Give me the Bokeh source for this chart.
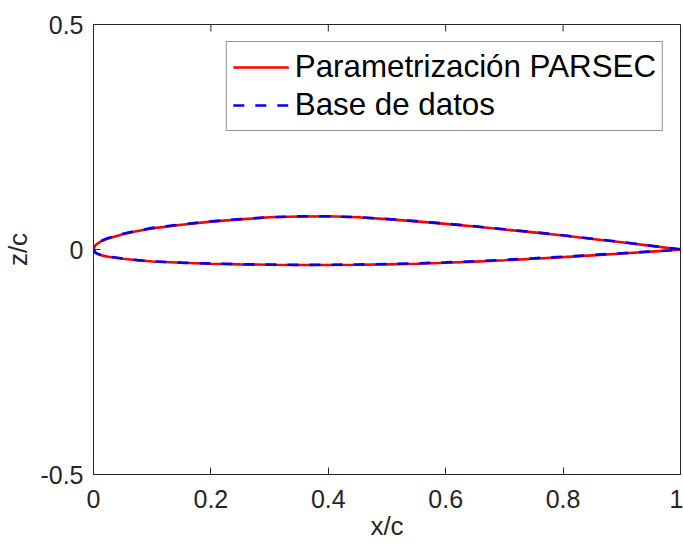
from bokeh.plotting import figure
from bokeh.models import Range1d, FixedTicker, Legend, LegendItem
from bokeh.embed import file_html
from bokeh.resources import INLINE

# chordwise stations (x/c)
x_stations = [0.0, 0.0025, 0.005, 0.0125, 0.025, 0.05, 0.075, 0.1, 0.15, 0.2, 0.25, 0.3,
              0.35, 0.4, 0.45, 0.5, 0.55, 0.6, 0.65, 0.7, 0.75, 0.8, 0.85, 0.9, 0.95, 1.0]

# PARSEC parametrization
z_upper_parsec = [0.0, 0.008, 0.0115, 0.018, 0.0245, 0.034, 0.041, 0.047, 0.055, 0.062, 0.067,
                  0.0715, 0.0735, 0.0738, 0.0718, 0.0675, 0.0625, 0.057, 0.051, 0.0445, 0.038,
                  0.031, 0.0235, 0.016, 0.008, 0.0]
z_lower_parsec = [0.0, -0.006, -0.0085, -0.0125, -0.016, -0.0205, -0.024, -0.0265, -0.0295,
                  -0.0315, -0.033, -0.034, -0.0345, -0.0345, -0.034, -0.033, -0.0315, -0.0295,
                  -0.027, -0.024, -0.0205, -0.017, -0.013, -0.009, -0.0048, 0.0]

# Database airfoil
z_upper_db = [0.0, 0.0085, 0.0122, 0.019, 0.0255, 0.035, 0.042, 0.048, 0.0558, 0.0625, 0.0675,
              0.0718, 0.0737, 0.0738, 0.0718, 0.0678, 0.063, 0.0575, 0.0515, 0.045, 0.0386,
              0.0316, 0.024, 0.0165, 0.0085, 0.0005]
z_lower_db = [0.0, -0.0058, -0.0082, -0.0122, -0.0157, -0.0202, -0.0237, -0.0262, -0.0292,
              -0.0312, -0.0327, -0.0336, -0.0341, -0.034, -0.0334, -0.0323, -0.0307, -0.0287,
              -0.026, -0.023, -0.0195, -0.016, -0.0122, -0.0083, -0.0043, -0.0005]

x_ticks = [0, 0.2, 0.4, 0.6, 0.8, 1.0]
x_tick_labels = ["0", "0.2", "0.4", "0.6", "0.8", "1"]
y_ticks = [-0.5, 0.0, 0.5]
y_tick_labels = ["-0.5", "0", "0.5"]

FONT = "Liberation Sans"
AX = "#262626"
X0, X1, Y0, Y1 = 0.0, 1.0, -0.5, 0.5

p = figure(width=683, height=545, output_backend="svg", toolbar_location=None,
           x_range=Range1d(X0, X1), y_range=Range1d(Y0, Y1),
           min_border_left=93, min_border_right=3, min_border_top=24, min_border_bottom=71)
p.background_fill_color = "white"
p.border_fill_color = "white"
p.outline_line_color = AX
p.outline_line_width = 1
p.grid.visible = False

# mirrored ticks on top and right edges (box on), tick length ~7 px
tx = 7.0 / 586.0 * (X1 - X0)
ty = 7.0 / 450.0 * (Y1 - Y0)
p.segment(x0=x_ticks, y0=[Y1] * len(x_ticks), x1=x_ticks, y1=[Y1 - ty] * len(x_ticks),
          line_color=AX, line_width=1)
p.segment(x0=[X1] * len(y_ticks), y0=y_ticks, x1=[X1 - tx] * len(y_ticks), y1=y_ticks,
          line_color=AX, line_width=1)

# closed contours: trailing edge -> upper -> leading edge -> lower -> trailing edge
xs_loop = x_stations[::-1] + x_stations[1:]
z_parsec_loop = z_upper_parsec[::-1] + z_lower_parsec[1:]
z_db_loop = z_upper_db[::-1] + z_lower_db[1:]

r1 = p.line(xs_loop, z_parsec_loop, line_color="#FF0000", line_width=2.6)
r2 = p.line(xs_loop, z_db_loop, line_color="#0000FF", line_width=2.6, line_dash="11 11")

for ax, ticks, labels in ((p.xaxis[0], x_ticks, x_tick_labels), (p.yaxis[0], y_ticks, y_tick_labels)):
    ax.ticker = FixedTicker(ticks=ticks)
    ax.major_label_overrides = {t: l for t, l in zip(ticks, labels)}
    ax.minor_tick_line_color = None
    ax.major_tick_in = 7
    ax.major_tick_out = 0
    ax.major_tick_line_color = AX
    ax.axis_line_color = AX
    ax.major_label_text_font = FONT
    ax.major_label_text_font_size = "25px"
    ax.major_label_text_color = AX
    ax.axis_label_text_font = FONT
    ax.axis_label_text_font_size = "26px"
    ax.axis_label_text_font_style = "normal"
    ax.axis_label_text_color = AX

p.xaxis.axis_label = "x/c"
p.yaxis.axis_label = "z/c"
p.xaxis.major_label_standoff = 15
p.yaxis.major_label_standoff = 10
p.xaxis.axis_label_standoff = 0
p.yaxis.axis_label_standoff = 4

legend = Legend(items=[LegendItem(label="Parametrización PARSEC", renderers=[r1]),
                       LegendItem(label="Base de datos", renderers=[r2])],
                location="top_right", margin=17, padding=6, spacing=0,
                glyph_width=56, glyph_height=38, label_height=38, label_standoff=6,
                label_text_font=FONT, label_text_font_size="31.3px", label_text_color="black",
                border_line_color=AX, border_line_width=1, background_fill_color="white",
                background_fill_alpha=1.0)
p.add_layout(legend, "center")

open("out.html", "w").write(file_html(p, INLINE))
